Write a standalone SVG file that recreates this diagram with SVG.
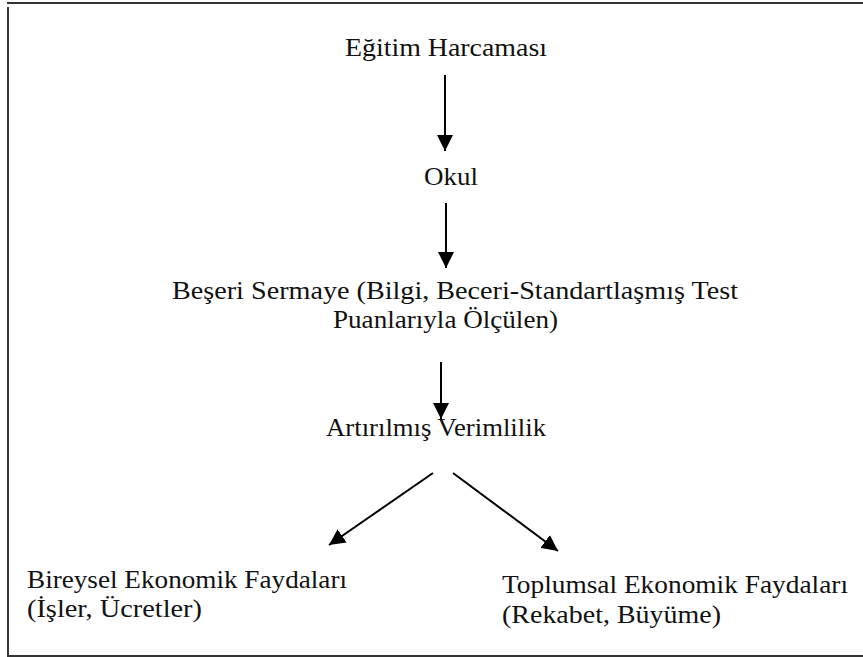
<svg xmlns="http://www.w3.org/2000/svg" width="863" height="657" viewBox="0 0 863 657">
  <defs>
    <style>
      text { font-family: 'Liberation Serif', 'Times New Roman', serif; font-size: 25px; fill: #111; }
      .c { stroke: #000; stroke-width: 2; fill: none; marker-end: url(#ah); }
      .frame { stroke: #333; stroke-width: 2; fill: none; }
    </style>
    <marker id="ah" markerUnits="userSpaceOnUse" markerWidth="16" markerHeight="16" viewBox="0 0 16 16" refX="16" refY="8" orient="auto">
      <path d="M0,0 L16,8 L0,16 z" fill="#000"/>
    </marker>
  </defs>
  <rect width="863" height="657" fill="#fff"/>
  <g id="frame">
    <line class="frame" x1="7" y1="3" x2="863" y2="3"/>
    <line class="frame" x1="8" y1="7" x2="8" y2="656"/>
    <line class="frame" x1="7" y1="656" x2="863" y2="656"/>
  </g>
  <g id="node-egitim">
    <text x="345" y="56" textLength="202" lengthAdjust="spacingAndGlyphs">Eğitim Harcaması</text>
  </g>
  <g id="node-okul">
    <text x="424" y="185" textLength="54" lengthAdjust="spacingAndGlyphs">Okul</text>
  </g>
  <g id="node-beseri">
    <text x="172" y="299" textLength="566" lengthAdjust="spacingAndGlyphs">Beşeri Sermaye (Bilgi, Beceri-Standartlaşmış Test</text>
    <text x="333" y="328" textLength="225" lengthAdjust="spacingAndGlyphs">Puanlarıyla Ölçülen)</text>
  </g>
  <g id="node-verimlilik">
    <text x="326" y="436" textLength="220" lengthAdjust="spacingAndGlyphs">Artırılmış Verimlilik</text>
  </g>
  <g id="node-bireysel">
    <text x="27" y="588" textLength="320" lengthAdjust="spacingAndGlyphs">Bireysel Ekonomik Faydaları</text>
    <text x="27" y="617" textLength="175" lengthAdjust="spacingAndGlyphs">(İşler, Ücretler)</text>
  </g>
  <g id="node-toplumsal">
    <text x="502" y="593" textLength="346" lengthAdjust="spacingAndGlyphs">Toplumsal Ekonomik Faydaları</text>
    <text x="502" y="623" textLength="219" lengthAdjust="spacingAndGlyphs">(Rekabet, Büyüme)</text>
  </g>
  <g id="connectors">
    <line class="c" x1="445" y1="75" x2="445" y2="151"/>
    <line class="c" x1="446" y1="203" x2="446" y2="268"/>
    <line class="c" x1="441" y1="362" x2="441" y2="419"/>
    <line class="c" x1="433" y1="473" x2="329" y2="545"/>
    <line class="c" x1="453" y1="473" x2="558" y2="551"/>
  </g>
</svg>
